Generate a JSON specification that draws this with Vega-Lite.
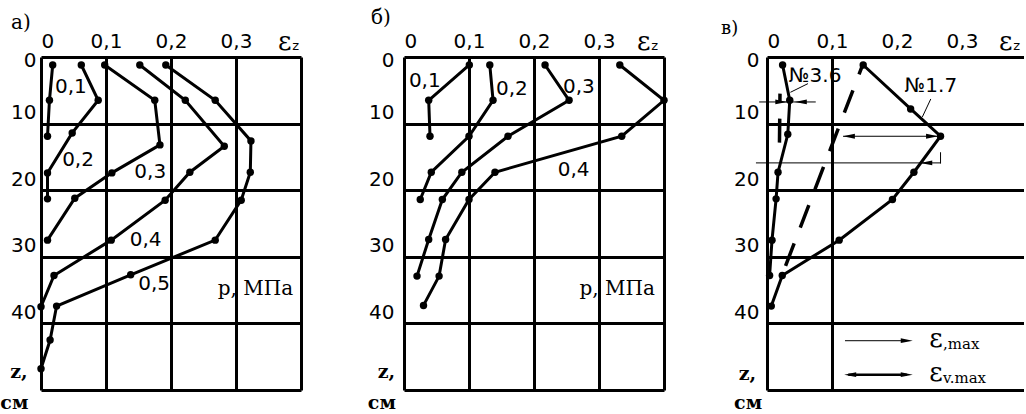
{
  "$schema": "https://vega.github.io/schema/vega-lite/v6.json",
  "background": "white",
  "padding": {"left": 0, "top": 7, "right": 0, "bottom": 0},
  "bounds": "flush",
  "spacing": 103,
  "config": {
    "view": {"stroke": null},
    "font": "DejaVu Sans",
    "axis": {
      "title": null, "grid": true, "gridColor": "black", "gridWidth": 3, "gridOpacity": 1,
      "ticks": false, "domain": false, "labelColor": "black", "labelFontSize": 20, "labelFont": "DejaVu Sans"
    },
    "title": {"font": "DejaVu Serif", "fontSize": 20, "fontWeight": "normal", "color": "black", "anchor": "start", "frame": "group"}
  },
  "datasets": {
    "a": [
      {"p": "0.1", "x": 0.018, "z": 1.2}, {"p": "0.1", "x": 0.013, "z": 6.5}, {"p": "0.1", "x": 0.010, "z": 11.9},
      {"p": "0.2", "x": 0.062, "z": 1.2}, {"p": "0.2", "x": 0.088, "z": 6.5}, {"p": "0.2", "x": 0.048, "z": 11.4}, {"p": "0.2", "x": 0.010, "z": 17.4}, {"p": "0.2", "x": 0.010, "z": 21.3},
      {"p": "0.3", "x": 0.098, "z": 1.2}, {"p": "0.3", "x": 0.175, "z": 6.5}, {"p": "0.3", "x": 0.183, "z": 13.2}, {"p": "0.3", "x": 0.109, "z": 17.4}, {"p": "0.3", "x": 0.052, "z": 21.2}, {"p": "0.3", "x": 0.010, "z": 27.5},
      {"p": "0.4", "x": 0.152, "z": 1.2}, {"p": "0.4", "x": 0.222, "z": 6.5}, {"p": "0.4", "x": 0.282, "z": 13.4}, {"p": "0.4", "x": 0.229, "z": 17.3}, {"p": "0.4", "x": 0.191, "z": 21.5}, {"p": "0.4", "x": 0.108, "z": 27.5}, {"p": "0.4", "x": 0.020, "z": 32.8}, {"p": "0.4", "x": 0.0, "z": 37.5},
      {"p": "0.5", "x": 0.192, "z": 1.2}, {"p": "0.5", "x": 0.268, "z": 6.5}, {"p": "0.5", "x": 0.323, "z": 12.6}, {"p": "0.5", "x": 0.322, "z": 17.3}, {"p": "0.5", "x": 0.308, "z": 21.5}, {"p": "0.5", "x": 0.268, "z": 27.5}, {"p": "0.5", "x": 0.138, "z": 32.7}, {"p": "0.5", "x": 0.024, "z": 37.4}, {"p": "0.5", "x": 0.014, "z": 42.5}, {"p": "0.5", "x": 0.0, "z": 46.8}
    ],
    "alab": [
      {"x": 0.046, "z": 4.5, "t": "0,1"}, {"x": 0.057, "z": 15.5, "t": "0,2"}, {"x": 0.168, "z": 17.3, "t": "0,3"},
      {"x": 0.161, "z": 27.5, "t": "0,4"}, {"x": 0.174, "z": 34.1, "t": "0,5"}
    ],
    "b": [
      {"p": "0.1", "x": 0.1005, "z": 1.2}, {"p": "0.1", "x": 0.038, "z": 6.5}, {"p": "0.1", "x": 0.040, "z": 11.9},
      {"p": "0.2", "x": 0.132, "z": 1.2}, {"p": "0.2", "x": 0.137, "z": 6.5}, {"p": "0.2", "x": 0.100, "z": 11.9}, {"p": "0.2", "x": 0.042, "z": 17.3}, {"p": "0.2", "x": 0.025, "z": 21.4},
      {"p": "0.3", "x": 0.217, "z": 1.2}, {"p": "0.3", "x": 0.254, "z": 6.5}, {"p": "0.3", "x": 0.160, "z": 11.9}, {"p": "0.3", "x": 0.089, "z": 17.3}, {"p": "0.3", "x": 0.059, "z": 21.4}, {"p": "0.3", "x": 0.038, "z": 27.4}, {"p": "0.3", "x": 0.020, "z": 32.9},
      {"p": "0.4", "x": 0.332, "z": 1.2}, {"p": "0.4", "x": 0.400, "z": 6.5}, {"p": "0.4", "x": 0.335, "z": 11.9}, {"p": "0.4", "x": 0.140, "z": 17.3}, {"p": "0.4", "x": 0.100, "z": 21.4}, {"p": "0.4", "x": 0.064, "z": 27.4}, {"p": "0.4", "x": 0.054, "z": 32.9}, {"p": "0.4", "x": 0.030, "z": 37.3}
    ],
    "blab": [
      {"x": 0.032, "z": 3.6, "t": "0,1"}, {"x": 0.166, "z": 4.8, "t": "0,2"}, {"x": 0.269, "z": 4.5, "t": "0,3"}, {"x": 0.261, "z": 17.0, "t": "0,4"}
    ],
    "c": [
      {"p": "3.6", "x": 0.024, "z": 1.2}, {"p": "3.6", "x": 0.035, "z": 6.5}, {"p": "3.6", "x": 0.032, "z": 11.6}, {"p": "3.6", "x": 0.017, "z": 17.3}, {"p": "3.6", "x": 0.014, "z": 21.3}, {"p": "3.6", "x": 0.0077, "z": 27.5}, {"p": "3.6", "x": 0.004, "z": 32.8},
      {"p": "1.7", "x": 0.148, "z": 1.2}, {"p": "1.7", "x": 0.221, "z": 7.8}, {"p": "1.7", "x": 0.267, "z": 11.9}, {"p": "1.7", "x": 0.226, "z": 17.3}, {"p": "1.7", "x": 0.193, "z": 21.4}, {"p": "1.7", "x": 0.111, "z": 27.5}, {"p": "1.7", "x": 0.0235, "z": 32.8}, {"p": "1.7", "x": 0.0066, "z": 37.4}
    ],
    "cdash": [
      {"s": "1.7", "x": 0.146, "z": 1.5}, {"s": "1.7", "x": 0.028, "z": 31.5},
      {"s": "3.6", "x": 0.020, "z": 5.5}, {"s": "3.6", "x": 0.019, "z": 14.5}
    ],
    "clab": [
      {"x": 0.074, "z": 2.9, "t": "№3.6"}, {"x": 0.252, "z": 4.4, "t": "№1.7"}
    ],
    "cthin": [
      {"x": 0.063, "z": 4.0, "x2": 0.036, "z2": 5.3},
      {"x": 0.252, "z": 6.3, "x2": 0.239, "z2": 9.0},
      {"x": -0.012, "z": 6.75, "x2": 0.075, "z2": 6.75},
      {"x": 0.117, "z": 11.9, "x2": 0.263, "z2": 11.9},
      {"x": -0.017, "z": 15.9, "x2": 0.267, "z2": 15.9},
      {"x": 0.267, "z": 14.3, "x2": 0.267, "z2": 16.0},
      {"x": 0.12, "z": 42.6, "x2": 0.215, "z2": 42.6}
    ],
    "cthick": [
      {"x": 0.125, "z": 47.7, "x2": 0.215, "z2": 47.7}
    ],
    "heads": [
      {"x": 0.215, "z": 42.6, "d": "r"},
      {"x": 0.128, "z": 47.7, "d": "l"}, {"x": 0.215, "z": 47.7, "d": "r"},
      {"x": 0.126, "z": 11.9, "d": "l"}, {"x": 0.254, "z": 11.9, "d": "r"},
      {"x": 0.022, "z": 6.75, "d": "r"}, {"x": 0.052, "z": 6.75, "d": "l"},
      {"x": 0.245, "z": 15.9, "d": "l"}
    ],
    "vgrid": [{"x": 0.2}, {"x": 0.3}],
    "eps": [{"x": 0.375, "z": -2.3}],
    "zlab": [{"x": -0.034, "z": 47.3, "t": "z,"}, {"x": -0.041, "z": 52.0, "t": "см"}],
    "zlabb": [{"x": -0.027, "z": 47.3, "t": "z,"}, {"x": -0.034, "z": 52.0, "t": "см"}],
    "zlabc": [{"x": -0.03, "z": 47.6, "t": "z,"}, {"x": -0.029, "z": 52.0, "t": "см"}],
    "pa": [{"x": 0.33, "z": 34.8, "t": "p, МПа"}],
    "pb": [{"x": 0.328, "z": 34.8, "t": "p, МПа"}],
    "leg": [{"x": 0.26, "z": 42.4, "t": "ε", "s": ",max"}, {"x": 0.26, "z": 47.4, "t": "ε", "s": "v.max"}]
  },
  "hconcat": [
    {
      "width": 260, "height": 333,
      "title": {"text": "а)", "dx": -30, "offset": -4},
      "encoding": {
        "x": {"field": "x", "type": "quantitative", "scale": {"domain": [0, 0.4]},
          "axis": {"orient": "top", "values": [0, 0.1, 0.2, 0.3, 0.4], "labelPadding": 6,
            "labelExpr": "datum.value == 0 ? '0' : (datum.value > 0.35 ? '' : replace(format(datum.value, '.1f'), '.', ','))"}},
        "y": {"field": "z", "type": "quantitative", "scale": {"domain": [0, 50], "reverse": true},
          "axis": {"values": [0, 10, 20, 30, 40, 50], "labelPadding": 5,
            "labelExpr": "datum.value > 45 ? '' : datum.label",
            "labelOffset": {"condition": {"test": "datum.value == 0", "value": 3}, "value": -11}}}
      },
      "layer": [
        {"data": {"name": "a"}, "mark": {"type": "line", "color": "black", "strokeWidth": 3, "point": {"filled": true, "size": 55, "color": "black"}},
          "encoding": {"detail": {"field": "p"}, "order": {"field": "z"}}},
        {"data": {"name": "alab"}, "mark": {"type": "text", "fontSize": 20, "color": "black", "font": "DejaVu Sans"}, "encoding": {"text": {"field": "t"}}},
        {"data": {"name": "pa"}, "mark": {"type": "text", "fontSize": 20, "color": "black", "font": "DejaVu Serif"}, "encoding": {"text": {"field": "t"}}},
        {"data": {"name": "zlab"}, "mark": {"type": "text", "fontSize": 19, "color": "black", "font": "DejaVu Serif", "fontWeight": "bold"}, "encoding": {"text": {"field": "t"}}},
        {"data": {"name": "eps"}, "mark": {"type": "text", "fontSize": 26, "color": "black", "font": "DejaVu Serif"}, "encoding": {"text": {"value": "ε"}}},
        {"data": {"name": "eps"}, "mark": {"type": "text", "fontSize": 13, "color": "black", "font": "DejaVu Sans", "dx": 11, "dy": 4}, "encoding": {"text": {"value": "z"}}}
      ]
    },
    {
      "width": 260, "height": 333,
      "title": {"text": "б)", "dx": -33, "offset": 1},
      "encoding": {
        "x": {"field": "x", "type": "quantitative", "scale": {"domain": [0, 0.4]},
          "axis": {"orient": "top", "values": [0, 0.1, 0.2, 0.3, 0.4], "labelPadding": 6,
            "labelExpr": "datum.value == 0 ? '0' : (datum.value > 0.35 ? '' : replace(format(datum.value, '.1f'), '.', ','))"}},
        "y": {"field": "z", "type": "quantitative", "scale": {"domain": [0, 50], "reverse": true},
          "axis": {"values": [0, 10, 20, 30, 40, 50], "labelPadding": 10,
            "labelExpr": "datum.value > 45 ? '' : datum.label",
            "labelOffset": {"condition": {"test": "datum.value == 0", "value": 3}, "value": -11}}}
      },
      "layer": [
        {"data": {"name": "b"}, "mark": {"type": "line", "color": "black", "strokeWidth": 3, "point": {"filled": true, "size": 55, "color": "black"}},
          "encoding": {"detail": {"field": "p"}, "order": {"field": "z"}}},
        {"data": {"name": "blab"}, "mark": {"type": "text", "fontSize": 20, "color": "black", "font": "DejaVu Sans"}, "encoding": {"text": {"field": "t"}}},
        {"data": {"name": "pb"}, "mark": {"type": "text", "fontSize": 20, "color": "black", "font": "DejaVu Serif"}, "encoding": {"text": {"field": "t"}}},
        {"data": {"name": "zlabb"}, "mark": {"type": "text", "fontSize": 19, "color": "black", "font": "DejaVu Serif", "fontWeight": "bold"}, "encoding": {"text": {"field": "t"}}},
        {"data": {"name": "eps"}, "mark": {"type": "text", "fontSize": 26, "color": "black", "font": "DejaVu Serif", "dx": -4}, "encoding": {"text": {"value": "ε"}}},
        {"data": {"name": "eps"}, "mark": {"type": "text", "fontSize": 13, "color": "black", "font": "DejaVu Sans", "dx": 7, "dy": 4}, "encoding": {"text": {"value": "z"}}}
      ]
    },
    {
      "width": 257, "height": 333,
      "title": {"text": "в)", "dx": -46, "offset": -9, "fontSize": 18},
      "encoding": {
        "x": {"field": "x", "type": "quantitative", "scale": {"domain": [0, 0.3954]},
          "axis": {"orient": "top", "values": [0, 0.1, 0.2, 0.3], "labelPadding": 6,
            "gridOpacity": {"condition": {"test": "datum.value > 0.15", "value": 0}, "value": 1},
            "labelExpr": "datum.value == 0 ? '0' : replace(format(datum.value, '.1f'), '.', ',')"}},
        "y": {"field": "z", "type": "quantitative", "scale": {"domain": [0, 50], "reverse": true},
          "axis": {"values": [0, 10, 20, 30, 40, 50], "labelPadding": 8,
            "labelExpr": "datum.value > 45 ? '' : datum.label",
            "labelOffset": {"condition": {"test": "datum.value == 0", "value": 3}, "value": -11}}}
      },
      "layer": [
        {"data": {"name": "vgrid"}, "mark": {"type": "rule", "color": "black", "strokeWidth": 3},
          "encoding": {"y": {"datum": 0}, "y2": {"datum": 40}}},
        {"data": {"name": "cdash"}, "mark": {"type": "line", "color": "black", "strokeWidth": 3.5, "strokeDash": [24, 17], "strokeDashOffset": 16},
          "encoding": {"detail": {"field": "s"}, "order": {"field": "z"}}},
        {"data": {"name": "c"}, "mark": {"type": "line", "color": "black", "strokeWidth": 3, "point": {"filled": true, "size": 55, "color": "black"}},
          "encoding": {"detail": {"field": "p"}, "order": {"field": "z"}}},
        {"data": {"name": "cthin"}, "mark": {"type": "rule", "color": "black", "strokeWidth": 1},
          "encoding": {"x2": {"field": "x2"}, "y2": {"field": "z2"}}},
        {"data": {"name": "cthick"}, "mark": {"type": "rule", "color": "black", "strokeWidth": 2.5},
          "encoding": {"x2": {"field": "x2"}, "y2": {"field": "z2"}}},
        {"data": {"name": "heads"}, "mark": {"type": "point", "filled": true, "color": "black", "opacity": 1, "size": 144},
          "encoding": {"shape": {"field": "d", "type": "nominal", "legend": null,
            "scale": {"domain": ["r", "l"], "range": ["M-1,-0.4L1,0L-1,0.4Z", "M1,-0.4L-1,0L1,0.4Z"]}}}},
        {"data": {"name": "clab"}, "mark": {"type": "text", "fontSize": 20, "color": "black", "font": "DejaVu Sans"}, "encoding": {"text": {"field": "t"}}},
        {"data": {"name": "zlabc"}, "mark": {"type": "text", "fontSize": 19, "color": "black", "font": "DejaVu Serif", "fontWeight": "bold"}, "encoding": {"text": {"field": "t"}}},
        {"data": {"name": "leg"}, "mark": {"type": "text", "fontSize": 26, "color": "black", "font": "DejaVu Serif"}, "encoding": {"text": {"field": "t"}}},
        {"data": {"name": "leg"}, "mark": {"type": "text", "fontSize": 15, "color": "black", "font": "DejaVu Serif", "align": "left", "dx": 7, "dy": 5}, "encoding": {"text": {"field": "s"}}},
        {"data": {"name": "eps"}, "mark": {"type": "text", "fontSize": 26, "color": "black", "font": "DejaVu Serif", "dx": -5}, "encoding": {"text": {"value": "ε"}}},
        {"data": {"name": "eps"}, "mark": {"type": "text", "fontSize": 13, "color": "black", "font": "DejaVu Sans", "dx": 6, "dy": 4}, "encoding": {"text": {"value": "z"}}}
      ]
    }
  ]
}
